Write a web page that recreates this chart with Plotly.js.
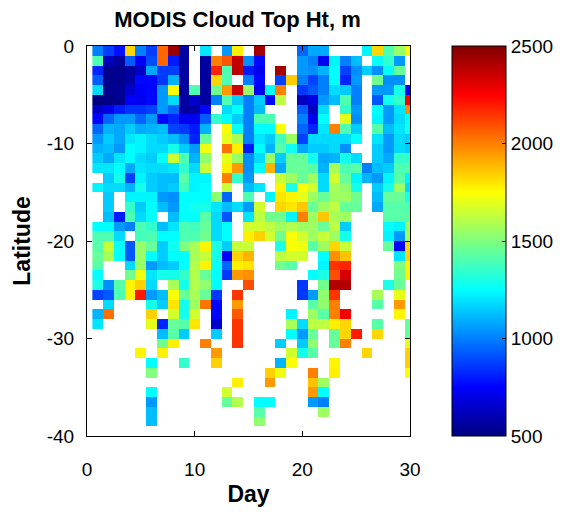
<!DOCTYPE html>
<html>
<head>
<meta charset="utf-8">
<script src="https://cdn.plot.ly/plotly-3.0.1.min.js"></script>
<style>
  html, body { margin: 0; padding: 0; background: #fff; }
  #chart { width: 565px; height: 514px; }
</style>
</head>
<body>
<div id="chart"></div>
<script>
const n = null;

// Day (cell centres) and latitude (cell centres, degrees)
const days = [1,2,3,4,5,6,7,8,9,10,11,12,13,14,15,16,17,18,19,20,21,22,23,24,25,26,27,28,29,30];
const lats = [-0.5,-1.5,-2.5,-3.5,-4.5,-5.5,-6.5,-7.5,-8.5,-9.5,-10.5,-11.5,-12.5,-13.5,-14.5,-15.5,-16.5,-17.5,-18.5,-19.5,
              -20.5,-21.5,-22.5,-23.5,-24.5,-25.5,-26.5,-27.5,-28.5,-29.5,-30.5,-31.5,-32.5,-33.5,-34.5,-35.5,-36.5,-37.5,-38.5,-39.5];

// Cloud top height (m), one array per latitude band, days 1..30
const r00 = [1000,870,780,1830,1000,870,2050,2450,560,n, 1200,n,1050,1780,n,2430,n,n,n,950, 1080,1080,n,n,n,1230,1830,1400,1550,1760];
const r01 = [1400,620,560,930,740,900,2050,800,560,n, 560,2000,2080,2370,1030,760,n,n,n,1050, 1000,720,1230,1000,1120,n,1260,1350,1050,n];
const r02 = [820,530,530,560,640,1080,870,870,560,n, 560,2180,1400,2380,800,720,n,2430,n,1050, 1030,1100,1250,880,1030,1150,1030,1260,1450,n];
const r03 = [930,530,530,580,760,760,860,1100,560,n, 560,1830,1400,n,1000,760,n,880,1850,1000, 880,1000,1250,820,1050,n,1470,1030,1030,n];
const r04 = [1180,530,540,660,740,760,1050,1750,560,1400, 560,1470,1950,2350,1550,720,1250,2000,n,860, 920,1000,1180,1150,1000,n,1050,1050,1290,730];
const r05 = [500,510,530,740,720,760,1050,1180,560,650, 560,1000,1400,1150,1000,1150,760,1620,n,620, 690,1050,1120,1400,1000,n,920,1280,1350,2250];
const r06 = [640,700,800,850,850,880,1050,950,560,570, 760,n,1180,1250,1000,1120,n,n,n,930, 620,1180,n,1350,1050,n,1250,1050,1200,1980];
const r07 = [760,950,1050,1050,950,1050,760,820,720,720, 930,1350,1250,1150,1000,1400,1400,n,n,1000, 720,1250,n,1700,1030,n,1230,1050,1180,1260];
const r08 = [950,1100,1080,1150,1080,1100,1120,880,860,800, 1100,n,1740,1250,1000,1250,1250,1750,n,950, 820,1200,2000,1400,1150,n,1420,1120,1200,1280];
const r09 = [1050,1150,1080,1200,1230,1180,1150,1120,1030,820, 1450,n,1700,1580,1000,1200,1150,1380,1560,880, 1180,1180,1180,1180,1250,n,1200,1050,1180,1150];
const r10 = [1100,1120,1050,1250,1230,1180,1180,1290,1150,1050, 1720,n,2030,1780,800,1250,1100,1420,1280,1080, 1150,1150,1180,1030,n,n,1150,1050,1180,1150];
const r11 = [1150,1080,1200,1250,1180,1150,1250,1650,1400,1100, 1530,n,1700,1550,1030,1180,1550,1150,1450,1450, 1280,1080,1100,1290,1180,n,1150,1080,1350,1350];
const r12 = [1200,1200,1250,1080,1200,1180,1180,1200,1350,1180, 1640,n,1780,1950,1030,1250,1900,1080,1450,1450, 1420,1100,1580,1400,1420,1000,1120,1150,1400,1400];
const r13 = [n,1150,1290,880,1230,1150,1120,1120,1420,1230, 1230,n,2000,1350,1050,n,n,1640,1560,1450, 1560,1180,1660,1450,1230,1100,1050,1230,1420,1230];
const r14 = [1230,1180,1180,1100,1290,1150,1120,1150,1380,1230, 1250,n,1640,n,1120,1200,n,1770,1300,1740, 1660,1180,1580,1530,1290,n,1150,1290,1560,1180];
const r15 = [n,1150,n,1230,1230,1230,1050,1030,1250,1250, 1250,1530,950,n,1400,n,1230,1800,1770,1700, 1560,1450,1560,1560,1470,n,1120,1450,1450,1300];
const r16 = [n,1150,n,1350,1150,1250,1120,1050,1250,1280, 1290,1200,1120,1180,1050,1660,n,1830,1800,1860, 1450,1560,1620,1450,1450,n,1080,1420,1420,1400];
const r17 = [n,1120,800,1400,1180,1250,n,1120,1250,1250, 1420,1180,920,n,1200,1620,1470,1470,1230,2000, 1560,1860,1580,1560,n,n,n,1420,1420,1420];
const r18 = [1250,1250,1050,1000,1400,1350,1120,1200,1400,1380, 1450,1180,1250,n,1660,1660,1620,1560,1600,1560, 1560,1450,1620,1150,n,n,n,1250,1230,1560];
const r19 = [1400,1400,1180,n,1380,1400,1250,1250,1400,1400, 1470,1180,1250,n,1780,1840,1660,1470,1740,1660, 1560,1640,1560,1290,n,n,n,1230,1050,1560];
const r20 = [1420,1640,1260,920,1550,1450,1150,1280,1500,1580, 1770,1300,1150,1640,1640,n,n,1300,1740,1720, 1420,1560,1830,1640,n,n,n,1450,750,1830];
const r21 = [1450,1580,1250,920,1550,1250,1150,1250,1250,1580, 1640,1290,730,1840,1900,n,n,1620,1660,1660, n,1250,1970,1870,n,n,n,n,1200,1840];
const r22 = [1420,n,n,1180,1550,1050,1120,1150,1250,1600, 1770,1260,950,1780,1800,n,n,1470,1420,n, n,1230,2150,2180,n,n,n,n,1500,1770];
const r23 = [1250,n,n,1470,1720,1200,1290,1290,1350,1600, 1450,1250,860,1950,1970,n,n,n,n,n, 1250,1300,2100,2330,n,n,n,n,1470,1770];
const r24 = [1300,1030,1420,1770,1840,1180,n,1580,1290,1600, 1530,1250,n,n,2100,n,n,n,n,860, n,1470,2400,2400,n,n,n,1300,1450,n];
const r25 = [880,920,1400,1770,2200,1050,1120,1740,1450,1580, 1450,860,n,2150,n,n,n,n,n,860, 1050,1530,2150,n,n,n,1580,n,1700,n];
const r26 = [n,1180,n,n,n,1290,1150,1800,1290,1560, 2020,760,n,1950,n,n,n,n,n,n, 1420,1530,2000,n,n,n,1420,n,1950,n];
const r27 = [1100,2030,n,n,n,1840,n,1660,1290,1660, n,760,n,2080,n,n,n,n,1230,n, 1560,1420,2000,2270,n,n,n,n,1770,n];
const r28 = [1200,n,n,n,n,1700,820,1450,1420,1800, n,660,n,2150,n,n,n,n,1580,1180, 1620,1620,1780,1830,n,n,1420,n,n,1450];
const r29 = [n,n,n,n,n,n,1120,1420,1150,n, n,1150,n,2150,n,n,n,n,1250,1050, 1450,n,1450,1830,2200,n,1830,n,n,1450];
const r30 = [n,n,n,n,n,n,1470,1780,n,n, 2000,n,n,2150,n,n,n,1150,n,1150, 1530,n,1450,2000,n,n,n,n,n,1700];
const r31 = [n,n,n,n,1770,n,1780,n,n,n, n,1950,n,n,n,n,n,n,1660,1290, 1420,n,n,n,n,1830,n,n,n,1840];
const r32 = [n,n,n,n,n,1250,n,n,1350,n, n,1840,n,n,n,n,n,1100,1740,n, n,n,1770,n,n,n,n,n,n,1840];
const r33 = [n,n,n,n,n,1500,n,n,n,n, n,n,n,n,n,n,1840,1720,n,n, 2000,n,1780,n,n,n,n,n,n,1740];
const r34 = [n,n,n,n,n,n,n,n,n,n, n,n,n,1780,n,n,1950,n,n,n, 1870,1560,n,n,n,n,n,n,n,n];
const r35 = [n,n,n,n,n,1250,n,n,n,n, n,n,1660,n,n,n,n,n,n,n, 1950,1250,n,n,n,n,n,n,n,n];
const r36 = [n,n,n,n,n,1050,n,n,n,n, n,n,1450,1600,n,1250,1250,n,n,n, 1050,1000,n,n,n,n,n,n,n,n];
const r37 = [n,n,n,n,n,1120,n,n,n,n, n,n,n,n,n,1420,n,n,n,n, n,1560,n,n,n,n,n,n,n,n];
const r38 = [n,n,n,n,n,1120,n,n,n,n, n,n,n,n,n,1530,n,n,n,n, n,n,n,n,n,n,n,n,n,n];
const r39 = [n,n,n,n,n,n,n,n,n,n, n,n,n,n,n,n,n,n,n,n, n,n,n,n,n,n,n,n,n,n];

// Tick labels
const xTickVals = [0, 10, 20, 30];
const xTickText = ['0', '10', '20', '30'];
const yTickVals = [0, -10, -20, -30, -40];
const yTickText = ['0', '-10', '-20', '-30', '-40'];
const cbTickVals = [500, 1000, 1500, 2000, 2500];
const cbTickText = ['500', '1000', '1500', '2000', '2500'];

const zRows = [r00,r01,r02,r03,r04,r05,r06,r07,r08,r09,r10,r11,r12,r13,r14,r15,r16,r17,r18,r19,
               r20,r21,r22,r23,r24,r25,r26,r27,r28,r29,r30,r31,r32,r33,r34,r35,r36,r37,r38,r39];

const jet = [
  [0.000, 'rgb(0,0,128)'],
  [0.125, 'rgb(0,0,255)'],
  [0.375, 'rgb(0,255,255)'],
  [0.625, 'rgb(255,255,0)'],
  [0.875, 'rgb(255,0,0)'],
  [1.000, 'rgb(128,0,0)']
];

const FONT = 'Liberation Sans, Arial, Helvetica, sans-serif';

const trace = {
  type: 'heatmap',
  x: days,
  y: lats,
  z: zRows,
  zmin: 500,
  zmax: 2500,
  colorscale: jet,
  hoverongaps: false,
  colorbar: {
    x: 1.13, xanchor: 'left', xref: 'paper',
    y: 0.5, yanchor: 'middle', yref: 'paper',
    len: 1, lenmode: 'fraction',
    thickness: 54, thicknessmode: 'pixels',
    xpad: 0, ypad: 0,
    outlinewidth: 1, outlinecolor: '#000',
    ticks: 'inside', ticklen: 4, tickcolor: '#000', tickwidth: 1,
    tickmode: 'array', tickvals: cbTickVals, ticktext: cbTickText,
    tickfont: { family: FONT, size: 19, color: '#000' }
  }
};

const axisCommon = {
  showline: true, linecolor: '#000', linewidth: 1, mirror: 'ticks',
  ticks: 'inside', ticklen: 5, tickcolor: '#000', tickwidth: 1,
  showgrid: false, zeroline: false, automargin: false,
  tickfont: { family: FONT, size: 19, color: '#000' },
  tickmode: 'array'
};

const layout = {
  width: 565, height: 514,
  margin: { l: 87, r: 155, t: 46, b: 78, pad: 0, autoexpand: false },
  paper_bgcolor: '#fff', plot_bgcolor: '#fff',
  font: { family: FONT, color: '#000' },
  title: {
    text: 'MODIS Cloud Top Ht, m',
    font: { family: FONT, size: 22, weight: 'bold', color: '#000' },
    xref: 'container', yref: 'container',
    x: 237.5 / 565, xanchor: 'center',
    y: 1 - 19 / 514, yanchor: 'middle'
  },
  xaxis: Object.assign({}, axisCommon, {
    range: [0, 30],
    tickvals: xTickVals, ticktext: xTickText,
    ticklabelstandoff: 16,
    title: { text: 'Day', font: { family: FONT, size: 23, weight: 'bold', color: '#000' }, standoff: 7 }
  }),
  yaxis: Object.assign({}, axisCommon, {
    range: [-40, 0],
    tickvals: yTickVals, ticktext: yTickText,
    ticklabelstandoff: 8,
    title: { text: 'Latitude', font: { family: FONT, size: 23, weight: 'bold', color: '#000' }, standoff: 9 }
  })
};

Plotly.newPlot('chart', [trace], layout, { displayModeBar: false, staticPlot: true });
</script>
</body>
</html>
